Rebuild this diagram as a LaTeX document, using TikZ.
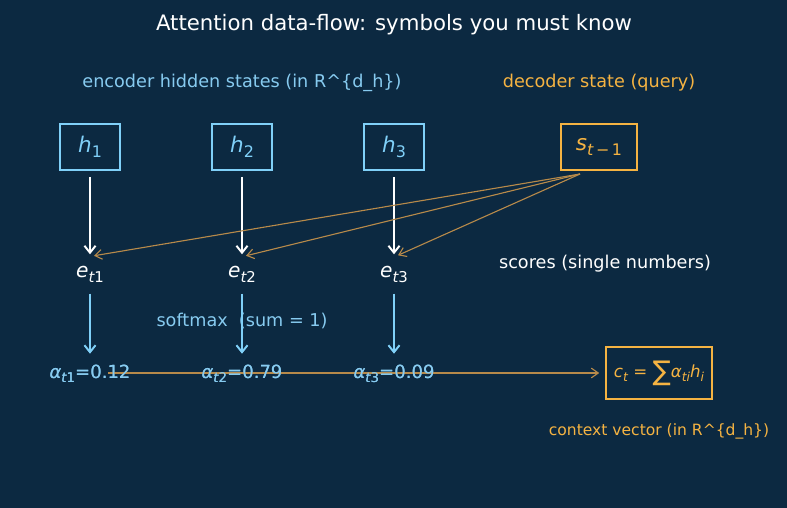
\documentclass[tikz,border=0pt]{standalone}
\usepackage{fontspec}
\setmainfont{DejaVu Sans}
\usetikzlibrary{arrows.meta,calc}
\definecolor{bg}{HTML}{0C2941}
\definecolor{lblue}{HTML}{80D0F8}
\definecolor{tblue}{HTML}{87CBF0}
\definecolor{orng}{HTML}{F5B342}
\definecolor{dorng}{HTML}{B88A4A}
\newcommand\mysub[1]{\raisebox{-0.25em}{\scalebox{0.74}{#1}}}
\newcommand\mi[1]{{\itshape #1}}
\tikzset{
  fs/.style={font=\fontsize{#1}{#1}\selectfont},
  hbox/.style={draw=lblue, line width=1.8pt, text=lblue, minimum width=43.2pt, minimum height=33.1pt, inner sep=0pt, fs=15.5},
  sbox/.style={draw=orng, line width=1.8pt, text=orng, minimum width=54.7pt, minimum height=33.1pt, inner sep=0pt, fs=15.5},
  cbox/.style={draw=orng, line width=1.8pt, text=orng, minimum width=76.3pt, minimum height=37.4pt, inner sep=0pt, fs=12},
  enode/.style={text=white, minimum height=28pt, inner sep=0pt, fs=14.5},
  anode/.style={text=tblue, minimum height=28.8pt, inner sep=0pt, fs=13},
  wa/.style={draw=white, line width=1.4pt, -{Straight Barb[length=5pt,width=8pt]}},
  ba/.style={draw=lblue, line width=1.4pt, -{Straight Barb[length=5pt,width=8pt]}},
  oa/.style={draw=dorng, line width=0.8pt, -{Straight Barb[length=5pt,width=7pt]}},
}
\begin{document}
\begin{tikzpicture}[x=0.72pt, y=-0.72pt]
\fill[bg] (0,0) rectangle (787,508);
\useasboundingbox (0,0) rectangle (787,508);

\node[text=white, fs=15.3] (title) at (394,25) {Attention data-flow: symbols you must know};
\node[text=tblue, fs=12.7] (enclab) at (242,83) {encoder hidden states (in R\^{}\{d\_h\})};
\node[text=orng, fs=12.7] (declab) at (599,83) {decoder state (query)};

\node[hbox] (h1) at (90,147) {\mi{h}\mysub{1}};
\node[hbox] (h2) at (242,147) {\mi{h}\mysub{2}};
\node[hbox] (h3) at (394,147) {\mi{h}\mysub{3}};
\node[sbox] (s) at (599,147) {\mi{s}\mysub{\mi{t}\,−\,1}};

\node[enode] (e1) at (90,274) {\mi{e}\mysub{\mi{t}1}};
\node[enode] (e2) at (242,274) {\mi{e}\mysub{\mi{t}2}};
\node[enode] (e3) at (394,274) {\mi{e}\mysub{\mi{t}3}};

\node[text=white, fs=12.7] (scores) at (605,264) {scores (single numbers)};
\node[text=tblue, fs=12.7] (softmax) at (242,321) {softmax\ \ (sum = 1)};

\node[anode] (a1) at (90,374) {\mi{α}\mysub{\mi{t}1}=0.12};
\node[anode] (a2) at (242,374) {\mi{α}\mysub{\mi{t}2}=0.79};
\node[anode] (a3) at (394,374) {\mi{α}\mysub{\mi{t}3}=0.09};

\node[cbox] (c) at (659,373) {\mi{c}\mysub{\mi{t}} = \raisebox{-0.14em}{\fontsize{19.5}{19.5}\selectfont ∑}\mi{α}\mysub{\mi{ti}}\mi{h}\mysub{\mi{i}}};
\node[text=orng, fs=11.2] (clab) at (659,431) {context vector (in R\^{}\{d\_h\})};

\coordinate (sq) at (580,174);
\coordinate (astart) at (108,373);

\draw[wa, shorten <=4pt] (h1) -- (e1);
\draw[wa, shorten <=4pt] (h2) -- (e2);
\draw[wa, shorten <=4pt] (h3) -- (e3);

\draw[oa] (sq) -- ($(e1.north)+(4,1.5)$);
\draw[oa] (sq) -- ($(e2.north)+(4,1.5)$);
\draw[oa] (sq) -- ($(e3.north)+(4,1)$);

\draw[ba] (e1) -- (a1);
\draw[ba] (e2) -- (a2);
\draw[ba] (e3) -- (a3);

\draw[oa, shorten >=4pt] (astart) -- (c.west);
\node[anode] at (a1) {\mi{α}\mysub{\mi{t}1}=0.12};
\node[anode] at (a2) {\mi{α}\mysub{\mi{t}2}=0.79};
\node[anode] at (a3) {\mi{α}\mysub{\mi{t}3}=0.09};
\end{tikzpicture}
\end{document}
